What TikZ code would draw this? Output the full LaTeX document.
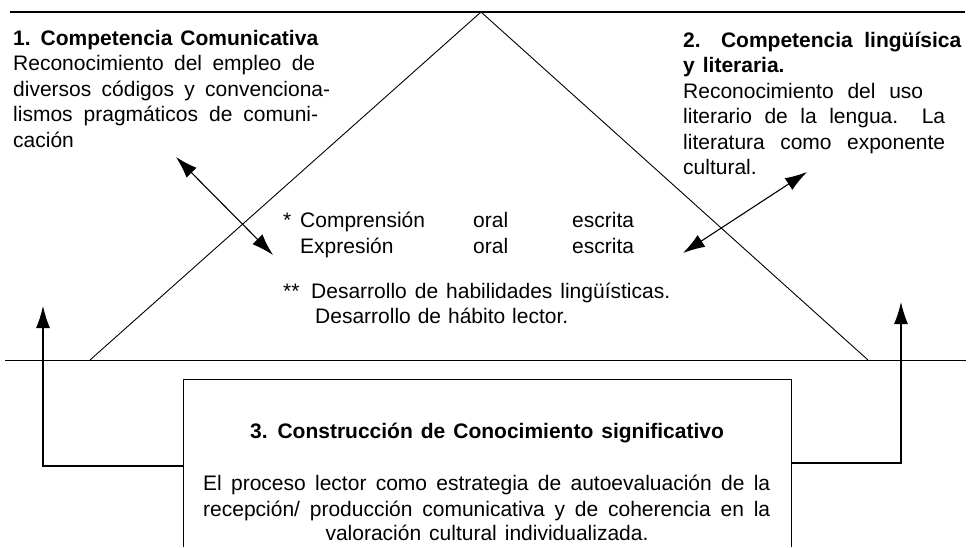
\documentclass[tikz,border=0pt]{standalone}
\usepackage{fontspec}
\setmainfont{Liberation Sans}
\usetikzlibrary{arrows.meta}
\newcommand\wsp{\spaceskip=.38em plus 1em minus .05em\relax}
\newcommand\jline[2]{\makebox[#1pt][s]{#2}}
\begin{document}
\begin{tikzpicture}[x=1pt,y=-1pt,
  txt/.style={inner sep=0pt,anchor=base west,align=left,
    font=\fontsize{21}{25.5}\selectfont},
  ctxt/.style={txt,anchor=base,align=center},
  thin line/.style={line width=0.9pt},
  frameline/.style={line width=1.3pt},
  tipx/.tip={Latex[length=22pt,width=14pt]},
  arr/.style={line width=1.1pt,-tipx},
  darr/.style={line width=1.1pt,tipx-tipx}]
\useasboundingbox (0,0) rectangle (972,547);
% frame lines and triangle
\coordinate (topL) at (10,12);
\coordinate (topR) at (965,12);
\coordinate (apex) at (481,12);
\coordinate (baseL) at (90,360);
\coordinate (baseR) at (868,360);
\coordinate (botL) at (5,360);
\coordinate (botR) at (966,360);
\draw[frameline] (topL) -- (topR);
\draw[thin line] (botL) -- (botR);
\draw[thin line] (baseL) -- (apex) -- (baseR);
% open box
\coordinate (bxBL) at (183,547);
\coordinate (bxTL) at (183,379);
\coordinate (bxTR) at (791,379);
\coordinate (bxBR) at (791,547);
\draw[thin line] (bxBL) -- (bxTL) -- (bxTR) -- (bxBR);
% texts top (base anchor = last line)
\node[txt] (c1) at (13,147) {\wsp\bfseries\jline{305}{1. Competencia Comunicativa}\\
\wsp\jline{302}{Reconocimiento del empleo de}\\
\wsp\jline{317}{diversos códigos y convenciona-}\\
\wsp\jline{305}{lismos pragmáticos de comuni-}\\
cación};
\node[txt] (c2) at (683,174.5) {\wsp\bfseries\jline{278}{2. Competencia lingüísica}\\
\wsp\bfseries y literaria.\\
\wsp\jline{240}{Reconocimiento del uso}\\
\wsp\jline{262}{literario de la lengua. La}\\
\wsp\jline{262}{literatura como exponente}\\
cultural.};
% center texts
\node[txt] (st1) at (283,227) {*};
\node[txt] (comp) at (300,227) {Comprensión};
\node[txt] (or1) at (473,227) {oral};
\node[txt] (es1) at (572,227) {escrita};
\node[txt] (expr) at (300,253) {Expresión};
\node[txt] (or2) at (473,253) {oral};
\node[txt] (es2) at (572,253) {escrita};
\node[txt] (st2) at (283,298) {**};
\node[txt] (des1) at (311,298) {\wsp\jline{359}{Desarrollo de habilidades lingüísticas.}};
\node[txt] (des2) at (315,323) {\wsp\jline{253}{Desarrollo de hábito lector.}};
% box texts
\node[ctxt] (c3) at (487,438) {\wsp\bfseries 3. Construcción de Conocimiento significativo};
\node[txt] (b1) at (203,490) {\wsp\jline{567}{El proceso lector como estrategia de autoevaluación de la}};
\node[txt] (b2) at (203,516) {\wsp\jline{567}{recepción/ producción comunicativa y de coherencia en la}};
\node[ctxt] (b3) at (487,540) {\wsp valoración cultural individualizada.};
% double arrows
\coordinate (la1) at (176,157);
\coordinate (la2) at (273,255);
\draw[darr] (la1) -- (la2);
\coordinate (ra1) at (683,253);
\coordinate (ra2) at (807,172);
\draw[darr] (ra1) -- (ra2);
% feedback arrows
\coordinate (lc) at (43,466);
\coordinate (lt) at (43,306);
\coordinate (lb) at (183,466);
\draw[arr] (lb) -- (lc) -- (lt);
\coordinate (rc) at (901,463);
\coordinate (rt) at (901,302);
\coordinate (rb) at (791,463);
\draw[arr] (rb) -- (rc) -- (rt);
\end{tikzpicture}
\end{document}
